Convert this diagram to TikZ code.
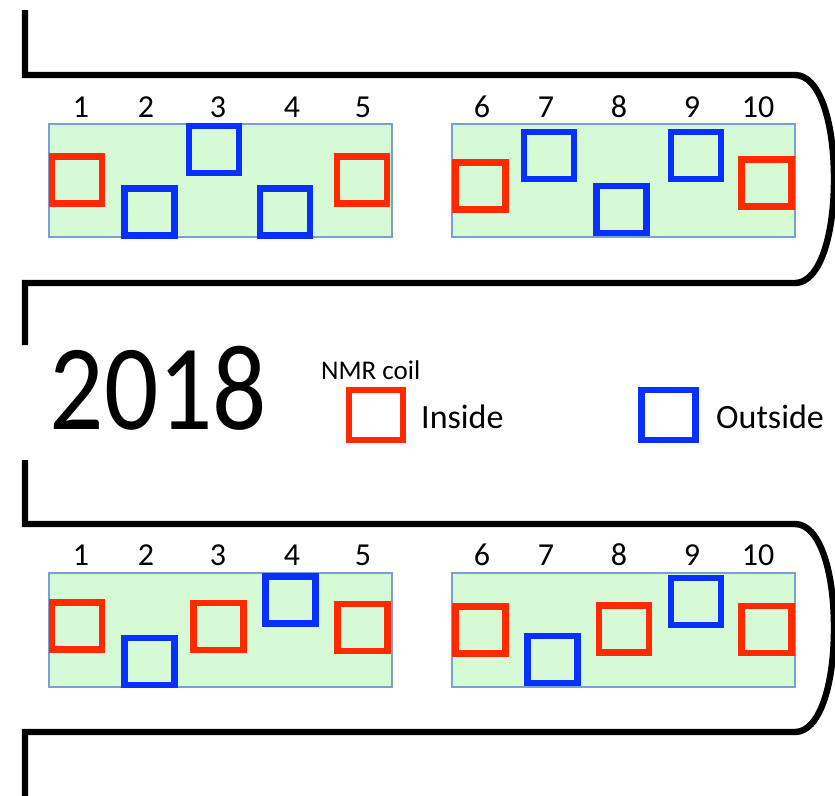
\documentclass[tikz,border=0pt]{standalone}
\usepackage{fontspec}
\setmainfont{Carlito}
\definecolor{coilred}{RGB}{255,42,0}
\definecolor{coilblue}{RGB}{8,48,255}
\definecolor{boxgreen}{RGB}{214,250,214}
\definecolor{boxedge}{RGB}{120,160,214}
\tikzset{
  cin/.style={draw=coilred, line width=6.4pt, minimum width=50pt, minimum height=47pt, inner sep=0pt},
  cout/.style={draw=coilblue, line width=6.4pt, minimum width=50pt, minimum height=47pt, inner sep=0pt},
  legin/.style={cin, minimum width=54pt, minimum height=50pt},
  legout/.style={cout, minimum width=54pt, minimum height=50pt},
  tray/.style={draw=boxedge, fill=boxgreen, line width=1.4pt},
  wall/.style={draw=black, line width=6.4pt, line join=miter},
  num/.style={font=\fontsize{32}{36}\selectfont, anchor=base, inner sep=0pt},
  legtxt/.style={font=\fontsize{34}{38}\selectfont, anchor=base west, inner sep=0pt}
}
\begin{document}
\begin{tikzpicture}[x=1pt,y=-1pt]
\useasboundingbox (0,0) rectangle (835,795);
% walls
\draw[wall] (25,10) -- (25,75) -- (795,75) .. controls (819,75) and (834,120) .. (834,179) .. controls (834,238) and (819,283) .. (795,283) -- (25,283) -- (25,345);
\draw[wall] (25,460) -- (25,524) -- (795,524) .. controls (819,524) and (834,569) .. (834,628) .. controls (834,687) and (819,732) .. (795,732) -- (25,732) -- (25,800);
% trays
\path[tray] (49,124) rectangle (392,237);
\path[tray] (452,124) rectangle (795,237);
\path[tray] (49,573) rectangle (392,687);
\path[tray] (452,573) rectangle (795,687);
% numbers
\foreach \n/\x in {1/81,2/146,3/218,4/292,5/363,6/482,7/546,8/619,9/692,10/758}{
  \node[num] (ta\n) at (\x,117) {\n};
  \node[num] (ba\n) at (\x,565) {\n};
}
% top coils
\node[cin]  (t1)  at (77,180) {};
\node[cout] (t2)  at (149.5,212) {};
\node[cout] (t3)  at (214,149.5) {};
\node[cout] (t4)  at (285,212) {};
\node[cin]  (t5)  at (362,180) {};
\node[cin]  (t6)  at (480.5,186) {};
\node[cout] (t7)  at (549,155.5) {};
\node[cout] (t8)  at (621.5,209.5) {};
\node[cout] (t9)  at (696,155.5) {};
\node[cin]  (t10) at (766.5,183) {};
% bottom coils
\node[cin]  (b1)  at (77,626) {};
\node[cout] (b2)  at (149.5,661.5) {};
\node[cin]  (b3)  at (218.5,626.5) {};
\node[cout] (b4)  at (290.5,600) {};
\node[cin]  (b5)  at (362.5,627.5) {};
\node[cin]  (b6)  at (480.5,630) {};
\node[cout] (b7)  at (552.5,659.5) {};
\node[cin]  (b8)  at (624,629) {};
\node[cout] (b9)  at (696,601.5) {};
\node[cin]  (b10) at (766.5,629.5) {};
% year
\node[font=\fontsize{122}{130}\selectfont, anchor=base, inner sep=0pt, xscale=0.88] (year) at (158.5,429) {2018};
% legend
\node[font=\fontsize{27}{30}\selectfont, anchor=base west, inner sep=0pt] (nmr) at (321,379) {NMR coil};
\node[legin]  (lin)  at (376,415) {};
\node[legtxt] (tin)  at (421,428) {Inside};
\node[legout] (lout) at (668.5,415) {};
\node[legtxt] (tout) at (716,428) {Outside};
\end{tikzpicture}
\end{document}
